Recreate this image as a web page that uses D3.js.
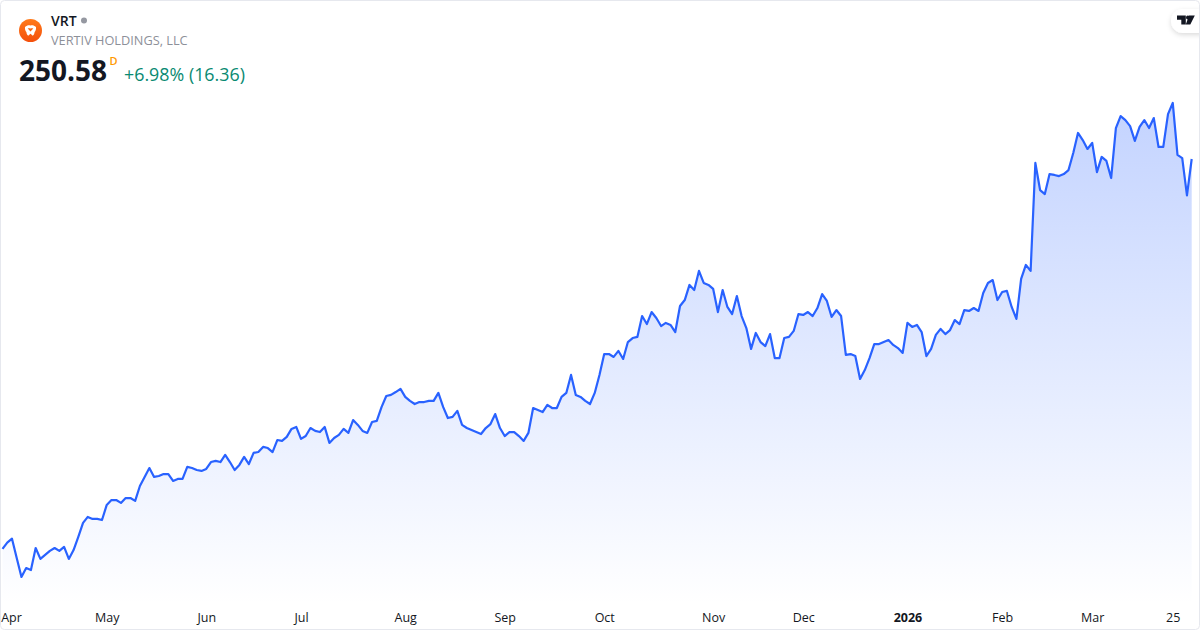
<!DOCTYPE html>
<html>
<head>
<meta charset="utf-8">
<script src="https://cdnjs.cloudflare.com/ajax/libs/d3/7.8.5/d3.min.js"></script>
<style>
    html, body { margin: 0; padding: 0; background: #fff; }
    svg { display: block; }
    text { font-family: "Open Sans", sans-serif; }
    .axis text { font-family: "Open Sans", sans-serif; font-size: 12.5px; fill: #131722; }
</style>
</head>
<body>
<div id="chart"></div>
<script>
// daily closes
const closes = [
    75.1, 77.9, 79.7, 71.0, 62.5, 66.5, 65.6, 75.5, 70.6, 72.4,
    74.2, 75.5, 74.2, 76.0, 70.6, 74.6, 80.5, 86.8, 89.5, 88.6,
    88.6, 88.1, 94.9, 97.1, 97.1, 95.8, 98.0, 98.0, 96.7, 103.4,
    107.5, 111.5, 107.5, 107.9, 108.8, 108.8, 105.7, 106.6, 106.6, 112.0,
    111.5, 110.6, 110.2, 111.1, 114.2, 114.7, 114.2, 117.4, 114.2, 110.6,
    112.9, 116.5, 113.3, 118.3, 118.7, 121.0, 120.5, 118.7, 124.1, 123.7,
    125.5, 129.1, 130.0, 124.6, 125.9, 129.5, 128.2, 127.7, 130.0, 122.8,
    125.0, 126.4, 129.1, 127.3, 133.1, 130.9, 128.2, 127.3, 132.2, 132.7,
    138.9, 143.9, 144.4, 145.7, 147.1, 143.5, 141.7, 140.3, 141.2, 141.2,
    141.7, 141.7, 145.3, 139.0, 134.0, 134.5, 137.2, 130.9, 129.5, 128.6,
    127.7, 126.8, 129.5, 131.3, 135.8, 129.5, 125.9, 127.7, 127.7, 125.9,
    123.7, 127.3, 138.5, 137.6, 136.7, 139.9, 138.5, 138.5, 143.5, 145.3,
    153.4, 144.4, 143.5, 141.7, 140.3, 145.3, 153.4, 162.8, 162.8, 161.5,
    164.2, 160.6, 168.2, 170.0, 170.5, 179.9, 176.3, 181.7, 179.0, 175.4,
    176.8, 175.9, 172.7, 184.4, 187.1, 193.9, 191.6, 200.2, 194.8, 193.9,
    192.1, 181.7, 191.6, 184.0, 180.8, 188.9, 179.9, 174.5, 165.1, 172.3,
    168.2, 166.4, 171.8, 161.0, 161.0, 170.0, 170.5, 173.2, 180.8, 180.4,
    181.7, 179.9, 183.5, 189.8, 186.7, 179.5, 182.6, 179.9, 162.4, 162.8,
    161.9, 151.6, 155.6, 161.0, 167.3, 167.3, 168.2, 169.1, 166.9, 165.5,
    163.3, 176.8, 175.0, 175.9, 172.7, 161.9, 165.1, 171.4, 174.1, 171.8,
    173.6, 178.1, 176.3, 182.6, 182.2, 183.5, 182.2, 190.3, 194.8, 196.1,
    187.1, 190.7, 191.2, 184.0, 178.6, 196.6, 202.9, 200.2, 248.8, 236.6,
    234.8, 243.8, 243.4, 242.9, 243.8, 245.6, 253.3, 262.3, 259.1, 255.1,
    257.8, 244.7, 251.5, 249.7, 242.0, 264.5, 269.9, 268.1, 265.4, 258.7,
    265.0, 268.1, 264.5, 269.0, 256.0, 256.0, 270.8, 275.8, 252.4, 251.0,
    234.22, 250.58
];
const tickIndex = [1, 22, 43, 63, 85, 106, 127, 150, 169, 191, 211, 230, 247];
const tickLabels = ["Apr", "May", "Jun", "Jul", "Aug", "Sep", "Oct", "Nov", "Dec", "2026", "Feb", "Mar", "25"];

const ticker = "VRT";
const company = "VERTIV HOLDINGS, LLC";
const lastPrice = "250.58";
const interval = "D";
const change = "+6.98% (16.36)";

let width = 1200;
let height = 630;

let svg = d3.select("#chart")
    .append("svg")
    .attr("width", width)
    .attr("height", height);

let xScale = d3.scaleLinear().domain([0, closes.length - 1]).range([2.5, 1191.7]);
let yScale = d3.scaleLinear().domain([50, 322.13]).range([604.7, 0]);

let defs = svg.append("defs");

let grad = defs.append("linearGradient")
    .attr("id", "fill")
    .attr("gradientUnits", "userSpaceOnUse")
    .attr("x1", 0).attr("x2", 0)
    .attr("y1", yScale(d3.max(closes)))
    .attr("y2", yScale.range()[0]);
grad.append("stop").attr("offset", 0).attr("stop-color", "#2962ff").attr("stop-opacity", 0.28);
grad.append("stop").attr("offset", 1).attr("stop-color", "#2962ff").attr("stop-opacity", 0);

let shadow = defs.append("filter").attr("id", "pill").attr("x", "-30%").attr("y", "-30%").attr("width", "160%").attr("height", "170%");
shadow.append("feDropShadow").attr("dx", 0).attr("dy", 2).attr("stdDeviation", 2.5).attr("flood-color", "#000").attr("flood-opacity", 0.14);

let logoGrad = defs.append("linearGradient").attr("id", "logo").attr("x1", 0).attr("x2", 0).attr("y1", 0).attr("y2", 1);
logoGrad.append("stop").attr("offset", 0).attr("stop-color", "#ff7a1a");
logoGrad.append("stop").attr("offset", 1).attr("stop-color", "#f4500c");

svg.append("path")
    .datum(closes)
    .attr("fill", "url(#fill)")
    .attr("d", d3.area()
        .x((d, i) => xScale(i))
        .y0(yScale.range()[0])
        .y1(d => yScale(d)));

svg.append("path")
    .datum(closes)
    .attr("fill", "none")
    .attr("stroke", "#2962ff")
    .attr("stroke-width", 2.2)
    .attr("stroke-linejoin", "round")
    .attr("d", d3.line()
        .x((d, i) => xScale(i))
        .y(d => yScale(d)));

// time axis
let xAxis = d3.axisBottom(xScale)
    .tickValues(tickIndex)
    .tickSize(0)
    .tickFormat((d, i) => tickLabels[i]);

let axisG = svg.append("g")
    .attr("class", "axis")
    .attr("transform", "translate(0,605)")
    .call(xAxis);
axisG.select(".domain").remove();
axisG.selectAll("text").attr("y", 8.5).attr("dy", "0.71em");
axisG.selectAll(".tick").filter(d => d === 191).select("text").style("font-weight", 700);
// first label gets pushed in from the left edge
axisG.selectAll(".tick").filter(d => d === 1).select("text").attr("dx", 3.8);

// header
svg.append("circle").attr("cx", 30.5).attr("cy", 30.5).attr("r", 11.5).attr("fill", "url(#logo)");
svg.append("path")
    .attr("fill", "#fff")
    .attr("fill-rule", "evenodd")
    .attr("d", "M25 27 C27 25.2 29 25 30.5 25.6 C32 25 34 25.2 36 27 C36.3 29.5 35.5 31 34.6 32 C34.6 33.5 33.8 35 32.8 35.8 L30.5 33.8 L28.2 35.8 C27.2 35 26.4 33.5 26.4 32 C25.5 31 24.7 29.5 25 27 Z M30.5 28.6 C29.6 28 28.5 28 27.7 28.5 L30.5 31.6 L33.3 28.5 C32.5 28 31.4 28 30.5 28.6 Z");

svg.append("text").attr("x", 51).attr("y", 26).attr("font-size", 14).attr("font-weight", 600).attr("fill", "#131722").text(ticker);
svg.append("circle").attr("cx", 84).attr("cy", 20.5).attr("r", 3).attr("fill", "#9598a1");
svg.append("text").attr("x", 51).attr("y", 45).attr("font-size", 12.75).attr("fill", "#8d9099").text(company);
svg.append("text").attr("x", 19).attr("y", 81).attr("font-size", 28).attr("font-weight", 700).attr("fill", "#131722").text(lastPrice);
svg.append("text").attr("x", 109.5).attr("y", 65).attr("font-size", 11).attr("font-weight", 600).attr("fill", "#ff9800").text(interval);
svg.append("text").attr("x", 124).attr("y", 81).attr("font-size", 17.85).attr("fill", "#0a8a72").text(change);

// TradingView badge
svg.append("rect")
    .attr("x", 1171).attr("y", 9).attr("width", 40).attr("height", 24).attr("rx", 12)
    .attr("fill", "#fff")
    .attr("filter", "url(#pill)");
svg.append("path")
    .attr("fill", "#131722")
    .attr("d", "M1177 15.5 H1185.8 V24.5 H1181.3 V19.8 H1177 Z M1189 15.5 H1194.8 L1190.3 24.5 H1185.8 Z");
svg.append("circle").attr("cx", 1187.9).attr("cy", 17.5).attr("r", 1.9).attr("fill", "#131722");

// card border, drawn last so it sits over the fill
svg.append("rect")
    .attr("x", 0.5).attr("y", 0.5)
    .attr("width", width - 1).attr("height", height - 1)
    .attr("rx", 4)
    .attr("fill", "none")
    .attr("stroke", "#e6e8ee");
</script>
</body>
</html>
